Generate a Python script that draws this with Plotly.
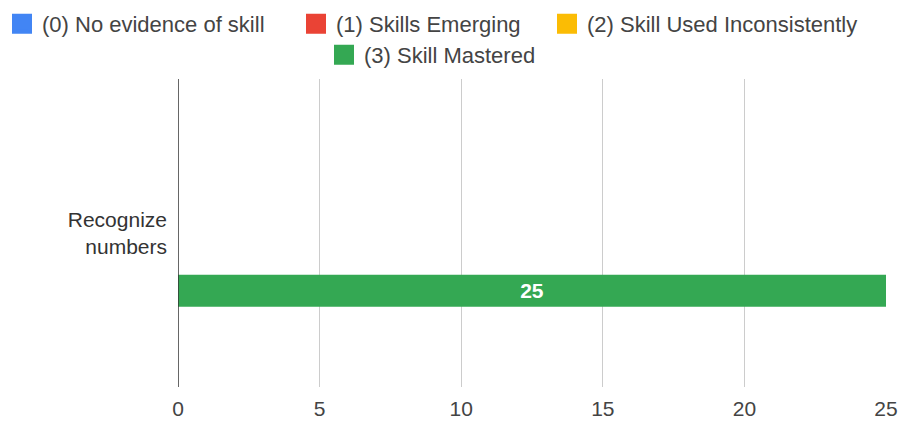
import plotly.graph_objects as go

# Skill levels and counts for the one assessed skill
categories = ["Recognize<br>numbers"]
series_names = [
    "(0) No evidence of skill",
    "(1) Skills Emerging",
    "(2) Skill Used Inconsistently",
    "(3) Skill Mastered",
]
series_values = [[0], [0], [0], [25]]
series_colors = ["#4285F4", "#EA4335", "#FBBC04", "#34A853"]
x_ticks = [0, 5, 10, 15, 20, 25]

FONT = "Liberation Sans, Arial, sans-serif"
W, H = 900, 421

# Legend entry placement (container pixels: left edge of entry, vertical centre)
legend_slots = [(2, 24), (296, 24), (547, 24), (324, 55)]
legend_ids = ["legend", "legend2", "legend3", "legend4"]

fig = go.Figure()
for name, vals, col in zip(series_names, series_values, series_colors):
    fig.add_trace(go.Bar(
        y=categories,
        x=vals,
        name=name,
        orientation="h",
        marker=dict(color=col, line=dict(width=0)),
        text=[str(v) if v else "" for v in vals],
        textposition="inside",
        insidetextanchor="middle",
        textfont=dict(color="white", size=21, family=FONT, weight="bold"),
        showlegend=False,
        hoverinfo="skip",
    ))

# Legend keys: larger square swatches than the default bar key
for name, col, lid in zip(series_names, series_colors, legend_ids):
    fig.add_trace(go.Scatter(
        x=[None], y=[None],
        mode="markers",
        name=name,
        marker=dict(symbol="square", size=16, color=col,
                    line=dict(color=col, width=4)),
        legend=lid,
        showlegend=True,
        hoverinfo="skip",
    ))

legend_layout = {}
for lid, (px, py) in zip(legend_ids, legend_slots):
    legend_layout[lid] = dict(
        orientation="h",
        xref="container", yref="container",
        x=px / W, xanchor="left",
        y=1 - py / H, yanchor="middle",
        font=dict(size=22, color="#444", family=FONT),
        itemclick=False, itemdoubleclick=False,
        bgcolor="rgba(0,0,0,0)",
        borderwidth=0,
    )

fig.update_layout(
    width=W,
    height=H,
    margin=dict(l=178, r=14, t=79, b=34),
    paper_bgcolor="white",
    plot_bgcolor="white",
    barmode="group",
    bargap=0.5,
    bargroupgap=0.167,
    font=dict(family=FONT, size=21, color="#444"),
    showlegend=True,
    xaxis=dict(
        range=[0, 25],
        tickvals=x_ticks,
        ticktext=[str(t) for t in x_ticks],
        showgrid=True,
        gridcolor="#cccccc",
        gridwidth=1,
        zeroline=False,
        showline=False,
        ticks="",
        ticklabelstandoff=7,
        tickfont=dict(size=21, color="#444"),
        automargin=False,
        fixedrange=True,
    ),
    yaxis=dict(
        type="category",
        range=[0.5, -0.5],
        showgrid=False,
        zeroline=False,
        showline=False,
        ticks="",
        ticklabelstandoff=10,
        tickfont=dict(size=21, color="#333"),
        automargin=False,
        fixedrange=True,
    ),
    shapes=[dict(
        type="line", xref="x", yref="paper",
        x0=0, x1=0, y0=0, y1=1,
        line=dict(color="#333333", width=1.5),
    )],
    **legend_layout,
)

fig.write_html("out.html")
